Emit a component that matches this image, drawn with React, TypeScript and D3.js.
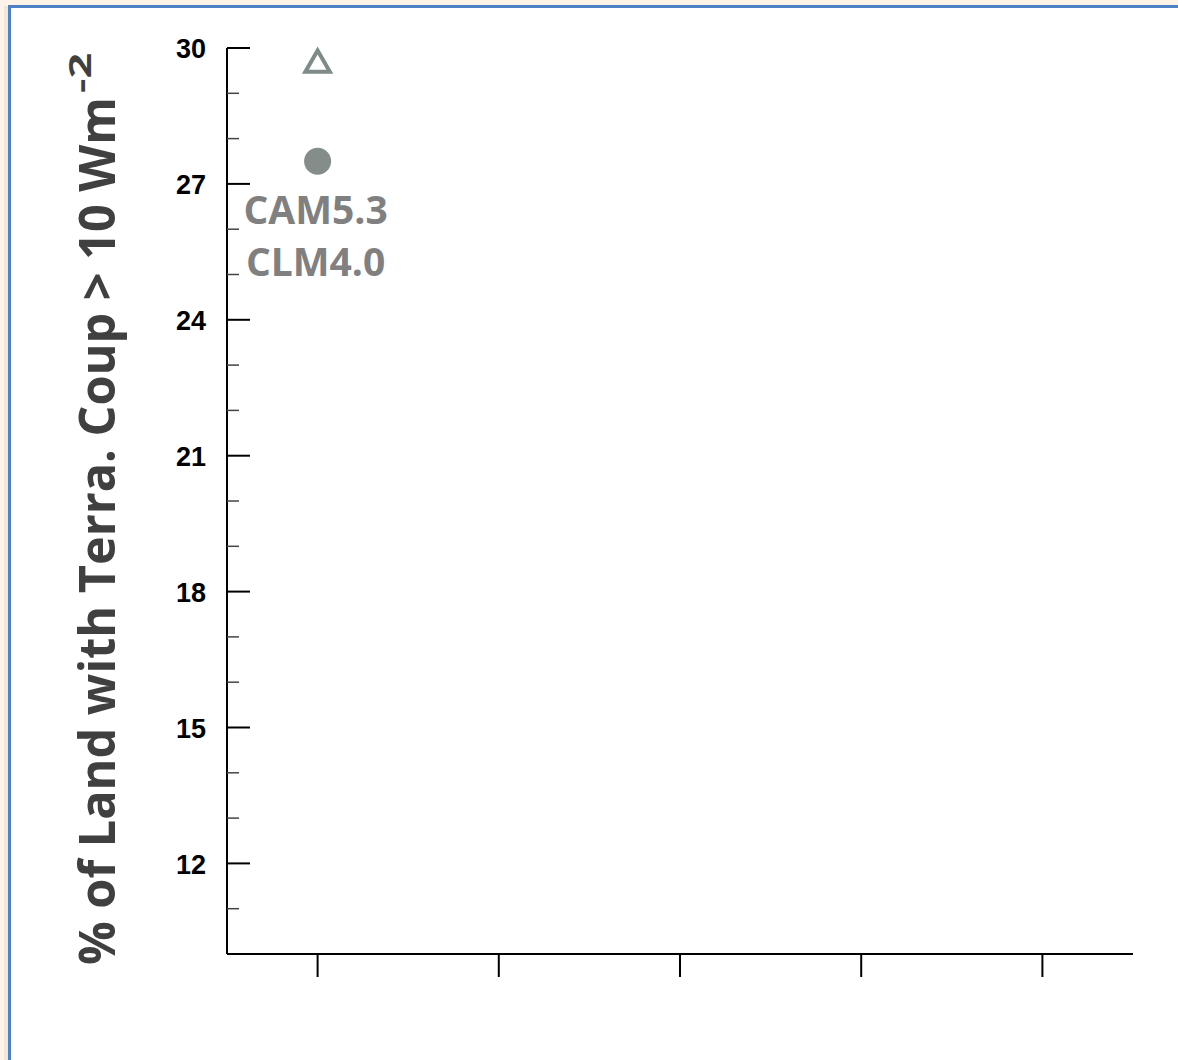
import React from "react";
import * as d3 from "d3";

const categories = ["c1", "c2", "c3", "c4", "c5"];
const triangleSeries = [{ cat: "c1", value: 29.63 }];
const circleSeries = [{ cat: "c1", value: 27.5 }];
const majorTicks = [12, 15, 18, 21, 24, 27, 30];
const minorTicks = [11, 13, 14, 16, 17, 19, 20, 22, 23, 25, 26, 28, 29];
const pointLabels = ["CAM5.3", "CLM4.0"];
const yTitle = "% of Land with Terra. Coup > 10 Wm";
const yTitleSup = "-2";

export default function App() {
  const W = 1178;
  const H = 1060;
  const left = 227;
  const right = 1133;
  const top = 48;
  const bottom = 954;

  const x = d3.scalePoint<string>().domain(categories).range([left, right]).padding(0.5);
  const y = d3.scaleLinear().domain([10, 30]).range([bottom, top]);

  const tri = d3.symbol().type(d3.symbolTriangle).size(260)();
  const grey = "#858d8b";

  return (
    <svg
      width={W}
      height={H}
      style={{ position: "absolute", left: 0, top: 0, display: "block" }}
    >
      <rect x={0} y={0} width={W} height={H} fill="#fdf3e9" />
      <rect x={4} y={6} width={6} height={H} fill="#efe6dc" />
      <rect x={9.5} y={6.5} width={W + 20} height={H + 20} fill="#ffffff" stroke="#4f81c7" strokeWidth={3} />

      {/* y axis title */}
      <text
        transform={`translate(115,965) rotate(-90)`}
        x={0}
        y={0}
        fontFamily="'Open Sans', sans-serif"
        fontWeight={700}
        fontSize={50}
        fill="#404040"
        textLength={868}
        lengthAdjust="spacingAndGlyphs"
      >
        {yTitle}
      </text>
      <text
        transform={`translate(91,93) rotate(-90)`}
        x={0}
        y={0}
        fontFamily="'Open Sans', sans-serif"
        fontWeight={700}
        fontSize={30}
        fill="#404040"
        textLength={40}
        lengthAdjust="spacingAndGlyphs"
      >
        {yTitleSup}
      </text>

      {/* y axis */}
      <line x1={left} x2={left} y1={y(30)} y2={y(10)} stroke="#000" strokeWidth={2} />
      {minorTicks.map((t) => (
        <line key={"m" + t} x1={left} x2={left + 12} y1={y(t)} y2={y(t)} stroke="#444" strokeWidth={1.5} />
      ))}
      {majorTicks.map((t) => (
        <g key={"M" + t}>
          <line x1={left} x2={left + 23} y1={y(t)} y2={y(t)} stroke="#000" strokeWidth={2} />
          <text
            x={206}
            y={y(t)}
            dy="0.38em"
            textAnchor="end"
            fontFamily="'Liberation Sans', Arial, sans-serif"
            fontWeight={700}
            fontSize={27}
            fill="#000"
          >
            {t}
          </text>
        </g>
      ))}

      {/* x axis */}
      <line x1={left} x2={right} y1={bottom} y2={bottom} stroke="#000" strokeWidth={2} />
      {categories.map((c) => (
        <line key={c} x1={x(c)} x2={x(c)} y1={bottom} y2={bottom + 23} stroke="#000" strokeWidth={2} />
      ))}

      {/* points */}
      {triangleSeries.map((d) => (
        <path
          key={"t" + d.cat}
          d={tri || ""}
          transform={`translate(${x(d.cat)},${y(d.value)})`}
          fill="none"
          stroke="#7e8b89"
          strokeWidth={4}
          strokeLinejoin="miter"
        />
      ))}
      {circleSeries.map((d) => (
        <circle key={"c" + d.cat} cx={x(d.cat)} cy={y(d.value)} r={13.5} fill={grey} />
      ))}

      {/* model labels */}
      {pointLabels.map((l, i) => (
        <text
          key={l}
          x={(x(circleSeries[0].cat) as number) - 2}
          y={y(circleSeries[0].value) + 63 + i * 52}
          textAnchor="middle"
          fontFamily="'Open Sans', sans-serif"
          fontWeight={700}
          fontSize={39}
          fill="#808080"
        >
          {l}
        </text>
      ))}
    </svg>
  );
}
